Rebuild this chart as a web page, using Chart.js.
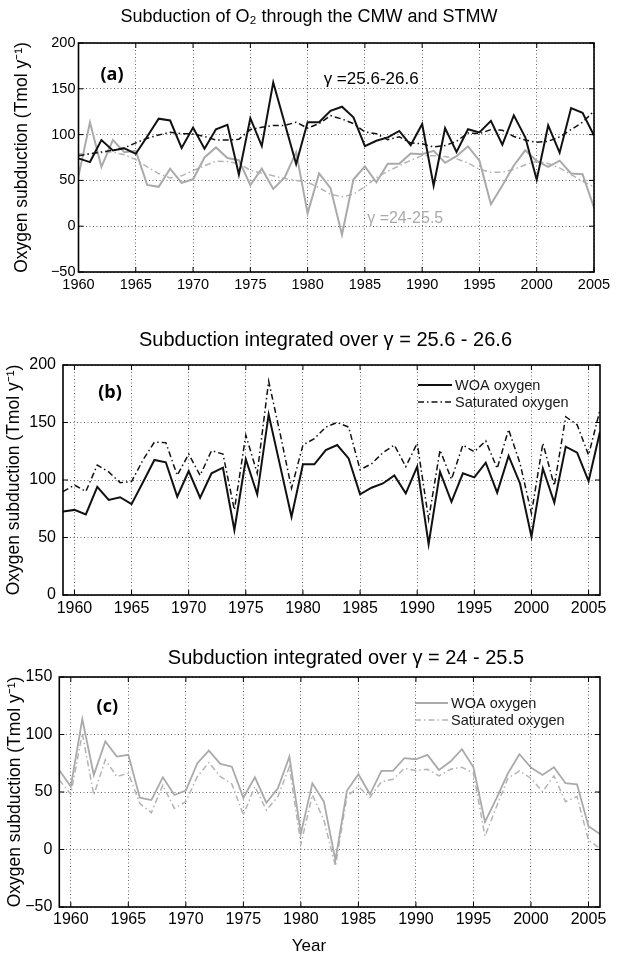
<!DOCTYPE html>
<html><head><meta charset="utf-8">
<script src="https://cdn.jsdelivr.net/npm/chart.js"></script>
<style>
html,body{margin:0;padding:0;background:#fff;width:618px;height:955px;overflow:hidden}
canvas{position:absolute;left:0}
</style></head><body>
<canvas id="ca" width="618" height="305" style="top:0px"></canvas>
<canvas id="cb" width="618" height="315" style="top:310px"></canvas>
<canvas id="cc" width="618" height="325" style="top:630px"></canvas>
<script>
// ---------------- data ----------------
const years = [1959,1960,1961,1962,1963,1964,1965,1966,1967,1968,1969,1970,1971,1972,1973,1974,1975,1976,1977,1978,1979,1980,1981,1982,1983,1984,1985,1986,1987,1988,1989,1990,1991,1992,1993,1994,1995,1996,1997,1998,1999,2000,2001,2002,2003,2004,2005,2006];
// gamma = 25.6-26.6
const woaDense = [72.5,74,70,94,82.6,85,79,98,117.4,115.4,85.5,107.8,84.6,105.8,110.7,56.5,118,87.5,157,112.5,68,113.6,113.6,126,130.4,118.8,87.5,93.3,97,104,88.4,111.6,44.3,107,81,105.8,102.3,115,89,121,97,50.7,110,80.3,129,123.8,99,142];
const satDense = [90,95.6,90,113,107,97.7,98.6,117.4,133,132.5,104,122.6,104,125.5,122.6,74,139,105.8,186,140.6,92.8,130.4,136,146,150,146,109,114,123.8,130.4,111.6,132,65.8,126,100.6,130.4,124.6,134,110,144,114.5,71,132,95,155,148,121.7,161];
// gamma = 24-25.5
const woaLight = [69,54.7,113.4,64.8,94,80.8,82.3,45,43,62.8,47.4,51.2,75,86,74.4,72,45,62.8,40.7,53.2,80.8,14,57.6,41.6,-9.3,51,65.4,48,68.3,68.3,79.4,78.5,82.3,69.2,76.5,87.2,71.5,24,44.5,66.3,82.8,71.2,64.8,71.5,57.6,56.7,20.3,13.4];
const satLight = [60.5,48,101,47.4,78,63.4,66.3,40,32,56,35.8,41.6,63.4,75.6,63.4,57,30,54.7,34.3,46,72,4.7,47.4,25.6,-14.5,46,54.7,45.3,59,61,70.6,68.6,69.8,64,69.8,71.5,66.3,11.6,37.2,62,68.3,62,50.3,64,41.6,46,8,1];
// smoothed curves of panel (a)
const trendYears = [1960,1961,1962,1963,1964,1965,1966,1967,1968,1969,1970,1971,1972,1973,1974,1975,1976,1977,1978,1979,1980,1981,1982,1983,1984,1985,1986,1987,1988,1989,1990,1991,1992,1993,1994,1995,1996,1997,1998,1999,2000,2001,2002,2003,2004,2005];
const trendDense = [77,79,81,83,85.5,91,96,99.6,102.5,101,100.7,98,94,94,95,105.5,108,110,110,113.5,107,112,120.7,117,112,103,101,94.5,97.5,91,90,86.5,88,92.7,101.8,101,105.5,104.7,98,94,91.6,92.7,97.5,105.5,113.5,125.5];
const trendLight = [79,79,80,81,78,72.7,64.7,57.5,52.7,55,60.7,66,71,70.5,68.4,61,58,55,52,50,48,42,35,32,35,43,53,60,66,72,77,77,76,73.5,69,62,59,59,62,67,71,68.4,63.6,56.4,49,43];
// ticks
const xTickYears = [1960,1965,1970,1975,1980,1985,1990,1995,2000,2005];
const yTicksA = [-50,0,50,100,150,200];
const yTicksB = [0,50,100,150,200];
const yTicksC = [-50,0,50,100,150];
// texts
const yTitle = 'Oxygen subduction (Tmol y\u207B\u00B9)';
const titles = ['Subduction of O\u2082 through the CMW and STMW','Subduction integrated over \u03B3 = 25.6 - 26.6','Subduction integrated over \u03B3 = 24 - 25.5'];
const legendLabels = ['WOA oxygen','Saturated oxygen'];

// ---------------- helpers ----------------
const FONT = '"Liberation Sans", Arial, Helvetica, sans-serif';
const BLACK = '#111111', GRAY = '#aaaaaa', GRAY2 = '#b4b4b4';
const DASHDOT = [6,3,1.5,3];
const pts = (xs, vs) => xs.map((x,i)=>({x:x, y:vs[i]}));
const fmtY = v => (v < 0 ? '\u2212' + Math.abs(v) : String(v));

const decor = {
  id: 'decor',
  afterDraw(chart, args, o) {
    const {ctx, chartArea: ca, scales: {x, y}} = chart;
    ctx.save();
    ctx.setLineDash([]);
    ctx.strokeStyle = '#000';
    const seg = (a,b,c,d) => { ctx.beginPath(); ctx.moveTo(a,b); ctx.lineTo(c,d); ctx.stroke(); };
    ctx.lineWidth = 1;
    x.ticks.forEach(t => { const px = x.getPixelForValue(t.value); seg(px, ca.bottom, px, ca.bottom-5); seg(px, ca.top, px, ca.top+5); });
    y.ticks.forEach(t => { const py = y.getPixelForValue(t.value); seg(ca.left, py, ca.left+5, py); seg(ca.right, py, ca.right-5, py); });
    ctx.lineWidth = 1.6;
    ctx.strokeRect(ca.left, ca.top, ca.right-ca.left, ca.bottom-ca.top);
    (o.texts || []).forEach(t => {
      ctx.font = t.font; ctx.fillStyle = t.color || '#000';
      ctx.textAlign = t.align || 'center'; ctx.textBaseline = 'middle';
      let px, py;
      if (t.xv !== undefined) { px = x.getPixelForValue(t.xv); py = y.getPixelForValue(t.yv); }
      else if (t.rel) { px = ca.left + t.dx; py = ca.top + t.dy; }
      else { px = t.px; py = t.py; }
      ctx.fillText(t.text, px, py);
    });
    if (o.legend) {
      const L = o.legend;
      chart.data.datasets.forEach((ds, i) => {
        const yy = ca.top + L.dy + i * L.gap;
        const x0 = ca.right - L.dx;
        ctx.strokeStyle = ds.borderColor; ctx.lineWidth = ds.borderWidth;
        ctx.setLineDash(ds.borderDash || []);
        seg(x0, yy, x0 + L.len, yy);
        ctx.setLineDash([]);
        ctx.fillStyle = '#1a1a1a'; ctx.font = L.font; ctx.textAlign = 'left'; ctx.textBaseline = 'middle';
        ctx.fillText(ds.label, x0 + L.len + 3, yy + 0.5);
      });
    }
    ctx.restore();
  }
};

function panel(id, cfg) {
  return new Chart(document.getElementById(id), {
    type: 'line',
    data: { datasets: cfg.datasets },
    options: {
      responsive: false, animation: false, devicePixelRatio: 1,
      layout: { padding: { top: cfg.top, right: cfg.right, left: 0, bottom: 0 } },
      elements: { point: { radius: 0 }, line: { tension: 0 } },
      plugins: { legend: { display: false }, tooltip: { enabled: false }, decor: cfg.decor },
      scales: {
        x: {
          type: 'linear', min: cfg.xmin, max: cfg.xmax,
          afterBuildTicks: s => { s.ticks = xTickYears.map(v => ({value: v})); },
          afterFit: s => { s.height = cfg.xh; },
          ticks: { callback: v => String(v), color: '#000', padding: cfg.xpad, maxRotation: 0, autoSkip: false, font: { family: FONT, size: cfg.tickSize } },
          grid: { color: 'rgba(0,0,0,0.6)', lineWidth: 1, drawTicks: false },
          border: { display: false, dash: [1,2.5] }
        },
        y: {
          min: cfg.ymin, max: cfg.ymax,
          afterBuildTicks: s => { s.ticks = cfg.yticks.map(v => ({value: v})); },
          afterFit: s => { s.width = cfg.yw; },
          ticks: { callback: v => fmtY(v), color: '#000', padding: cfg.ypad, font: { family: FONT, size: cfg.tickSize } },
          grid: { color: 'rgba(0,0,0,0.6)', lineWidth: 1, drawTicks: false },
          border: { display: false, dash: [1,2.5] },
          title: { display: true, text: yTitle, color: '#000', font: { family: FONT, size: 17.5 }, padding: { top: cfg.ytp, bottom: 0 } }
        }
      }
    },
    plugins: [decor]
  });
}

// ---------------- panel (a) ----------------
panel('ca', {
  top: 43, right: 24, xh: 33, yw: 78.5, xmin: 1960, xmax: 2005, ymin: -50, ymax: 200, yticks: yTicksA,
  tickSize: 14.5, xpad: 4, ypad: 3, ytp: 11.5,
  datasets: [
    { label: 'WOA 25.6-26.6', data: pts(years, woaDense), borderColor: BLACK, borderWidth: 2 },
    { label: 'Trend 25.6-26.6', data: pts(trendYears, trendDense), borderColor: BLACK, borderWidth: 1.5, borderDash: DASHDOT },
    { label: 'WOA 24-25.5', data: pts(years, woaLight), borderColor: GRAY, borderWidth: 2 },
    { label: 'Trend 24-25.5', data: pts(trendYears, trendLight), borderColor: GRAY2, borderWidth: 1.5, borderDash: DASHDOT }
  ],
  decor: { texts: [
    { text: titles[0], px: 309, py: 17, font: '18px ' + FONT },
    { text: '(a)', rel: true, dx: 33.5, dy: 32, font: 'bold 18px "Open Sans", ' + FONT },
    { text: '\u03B3 =25.6-26.6', xv: 1981.4, yv: 160, align: 'left', font: '17px ' + FONT },
    { text: '\u03B3 =24-25.5', xv: 1985.2, yv: 8, align: 'left', color: GRAY, font: '16px ' + FONT }
  ] }
});

// ---------------- panel (b) ----------------
panel('cb', {
  top: 55, right: 18, xh: 30, yw: 63, xmin: 1959, xmax: 2006, ymin: 0, ymax: 200, yticks: yTicksB,
  tickSize: 16, xpad: 4, ypad: 7, ytp: 3.5,
  datasets: [
    { label: legendLabels[0], data: pts(years, woaDense), borderColor: BLACK, borderWidth: 2 },
    { label: legendLabels[1], data: pts(years, satDense), borderColor: BLACK, borderWidth: 1.5, borderDash: DASHDOT }
  ],
  decor: {
    texts: [
      { text: titles[1], px: 325.5, py: 30, font: '20px ' + FONT },
      { text: '(b)', rel: true, dx: 47, dy: 28, font: 'bold 18px "Open Sans", ' + FONT }
    ],
    legend: { dx: 182, dy: 20, gap: 17, len: 34, font: '14.5px ' + FONT }
  }
});

// ---------------- panel (c) ----------------
panel('cc', {
  top: 47, right: 18, xh: 48, yw: 59.3, xmin: 1959, xmax: 2006, ymin: -50, ymax: 150, yticks: yTicksC,
  tickSize: 16, xpad: 3, ypad: 7, ytp: 4.5,
  datasets: [
    { label: legendLabels[0], data: pts(years, woaLight), borderColor: GRAY, borderWidth: 1.8 },
    { label: legendLabels[1], data: pts(years, satLight), borderColor: GRAY2, borderWidth: 1.5, borderDash: DASHDOT }
  ],
  decor: {
    texts: [
      { text: titles[2], px: 346, py: 28, font: '20px ' + FONT },
      { text: '(c)', rel: true, dx: 48, dy: 30, font: 'bold 18px "Open Sans", ' + FONT },
      { text: 'Year', px: 309, py: 316, font: '17px ' + FONT }
    ],
    legend: { dx: 185, dy: 26, gap: 17, len: 33, font: '14.5px ' + FONT }
  }
});
</script>
</body></html>
